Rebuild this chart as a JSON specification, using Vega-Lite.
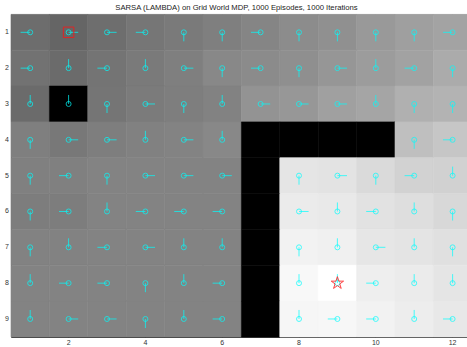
{
  "$schema": "https://vega.github.io/schema/vega-lite/v6.json",
  "width": 456,
  "height": 322.5,
  "autosize": "none",
  "padding": {"left": 11, "top": 14.4, "right": 0, "bottom": 10.1},
  "background": "white",
  "title": {
    "text": "SARSA (LAMBDA) on Grid World MDP, 1000 Episodes, 1000 Iterations",
    "font": "Liberation Sans",
    "fontSize": 7.7,
    "fontWeight": "normal",
    "color": "#222222",
    "anchor": "middle",
    "baseline": "alphabetic",
    "offset": 4.4,
    "dy": 8,
    "dx": -2.5
  },
  "config": {
    "view": {"stroke": null},
    "axis": {
      "grid": false,
      "zindex": 1,
      "labelFont": "Liberation Sans",
      "labelFontSize": 7,
      "labelColor": "#333333",
      "domainColor": "#262626",
      "domainWidth": 1,
      "tickColor": "#333333",
      "tickWidth": 1
    }
  },
  "datasets": {
    "cells": [
      {"col": 1, "row": 1, "value": 109, "action": "left"},
      {"col": 2, "row": 1, "value": 101, "action": "right"},
      {"col": 3, "row": 1, "value": 110, "action": "right"},
      {"col": 4, "row": 1, "value": 118, "action": "left"},
      {"col": 5, "row": 1, "value": 122, "action": "down"},
      {"col": 6, "row": 1, "value": 127, "action": "down"},
      {"col": 7, "row": 1, "value": 133, "action": "left"},
      {"col": 8, "row": 1, "value": 140, "action": "down"},
      {"col": 9, "row": 1, "value": 144, "action": "down"},
      {"col": 10, "row": 1, "value": 153, "action": "down"},
      {"col": 11, "row": 1, "value": 159, "action": "down"},
      {"col": 12, "row": 1, "value": 163, "action": "left"},

      {"col": 1, "row": 2, "value": 114, "action": "left"},
      {"col": 2, "row": 2, "value": 107, "action": "up"},
      {"col": 3, "row": 2, "value": 116, "action": "left"},
      {"col": 4, "row": 2, "value": 122, "action": "up"},
      {"col": 5, "row": 2, "value": 127, "action": "right"},
      {"col": 6, "row": 2, "value": 136, "action": "down"},
      {"col": 7, "row": 2, "value": 139, "action": "left"},
      {"col": 8, "row": 2, "value": 143, "action": "down"},
      {"col": 9, "row": 2, "value": 150, "action": "right"},
      {"col": 10, "row": 2, "value": 156, "action": "up"},
      {"col": 11, "row": 2, "value": 162, "action": "left"},
      {"col": 12, "row": 2, "value": 171, "action": "down"},

      {"col": 1, "row": 3, "value": 107, "action": "up"},
      {"col": 2, "row": 3, "value": 0, "action": "up"},
      {"col": 3, "row": 3, "value": 117, "action": "down"},
      {"col": 4, "row": 3, "value": 123, "action": "right"},
      {"col": 5, "row": 3, "value": 126, "action": "down"},
      {"col": 6, "row": 3, "value": 130, "action": "up"},
      {"col": 7, "row": 3, "value": 147, "action": "right"},
      {"col": 8, "row": 3, "value": 151, "action": "right"},
      {"col": 9, "row": 3, "value": 160, "action": "right"},
      {"col": 10, "row": 3, "value": 165, "action": "up"},
      {"col": 11, "row": 3, "value": 176, "action": "down"},
      {"col": 12, "row": 3, "value": 179, "action": "down"},

      {"col": 1, "row": 4, "value": 127, "action": "down"},
      {"col": 2, "row": 4, "value": 120, "action": "right"},
      {"col": 3, "row": 4, "value": 126, "action": "right"},
      {"col": 4, "row": 4, "value": 129, "action": "up"},
      {"col": 5, "row": 4, "value": 131, "action": "right"},
      {"col": 6, "row": 4, "value": 136, "action": "up"},
      {"col": 7, "row": 4, "value": 0},
      {"col": 8, "row": 4, "value": 0},
      {"col": 9, "row": 4, "value": 0},
      {"col": 10, "row": 4, "value": 0},
      {"col": 11, "row": 4, "value": 191, "action": "down"},
      {"col": 12, "row": 4, "value": 198, "action": "left"},

      {"col": 1, "row": 5, "value": 128, "action": "down"},
      {"col": 2, "row": 5, "value": 128, "action": "left"},
      {"col": 3, "row": 5, "value": 131, "action": "down"},
      {"col": 4, "row": 5, "value": 131, "action": "right"},
      {"col": 5, "row": 5, "value": 131, "action": "right"},
      {"col": 6, "row": 5, "value": 131, "action": "right"},
      {"col": 7, "row": 5, "value": 0},
      {"col": 8, "row": 5, "value": 229, "action": "down"},
      {"col": 9, "row": 5, "value": 227, "action": "right"},
      {"col": 10, "row": 5, "value": 218, "action": "down"},
      {"col": 11, "row": 5, "value": 210, "action": "left"},
      {"col": 12, "row": 5, "value": 209, "action": "up"},

      {"col": 1, "row": 6, "value": 125, "action": "down"},
      {"col": 2, "row": 6, "value": 125, "action": "left"},
      {"col": 3, "row": 6, "value": 131, "action": "up"},
      {"col": 4, "row": 6, "value": 131, "action": "left"},
      {"col": 5, "row": 6, "value": 131, "action": "left"},
      {"col": 6, "row": 6, "value": 131, "action": "left"},
      {"col": 7, "row": 6, "value": 0},
      {"col": 8, "row": 6, "value": 235, "action": "right"},
      {"col": 9, "row": 6, "value": 233, "action": "up"},
      {"col": 10, "row": 6, "value": 226, "action": "left"},
      {"col": 11, "row": 6, "value": 222, "action": "up"},
      {"col": 12, "row": 6, "value": 216, "action": "down"},

      {"col": 1, "row": 7, "value": 130, "action": "down"},
      {"col": 2, "row": 7, "value": 130, "action": "up"},
      {"col": 3, "row": 7, "value": 131, "action": "left"},
      {"col": 4, "row": 7, "value": 131, "action": "right"},
      {"col": 5, "row": 7, "value": 131, "action": "up"},
      {"col": 6, "row": 7, "value": 131, "action": "up"},
      {"col": 7, "row": 7, "value": 0},
      {"col": 8, "row": 7, "value": 242, "action": "down"},
      {"col": 9, "row": 7, "value": 240, "action": "up"},
      {"col": 10, "row": 7, "value": 230, "action": "right"},
      {"col": 11, "row": 7, "value": 228, "action": "up"},
      {"col": 12, "row": 7, "value": 224, "action": "down"},

      {"col": 1, "row": 8, "value": 131, "action": "up"},
      {"col": 2, "row": 8, "value": 131, "action": "left"},
      {"col": 3, "row": 8, "value": 131, "action": "left"},
      {"col": 4, "row": 8, "value": 131, "action": "down"},
      {"col": 5, "row": 8, "value": 131, "action": "up"},
      {"col": 6, "row": 8, "value": 131, "action": "left"},
      {"col": 7, "row": 8, "value": 0},
      {"col": 8, "row": 8, "value": 248, "action": "up"},
      {"col": 9, "row": 8, "value": 255, "action": "up"},
      {"col": 10, "row": 8, "value": 238, "action": "left"},
      {"col": 11, "row": 8, "value": 235, "action": "up"},
      {"col": 12, "row": 8, "value": 229, "action": "up"},

      {"col": 1, "row": 9, "value": 131, "action": "up"},
      {"col": 2, "row": 9, "value": 131, "action": "right"},
      {"col": 3, "row": 9, "value": 131, "action": "right"},
      {"col": 4, "row": 9, "value": 131, "action": "down"},
      {"col": 5, "row": 9, "value": 131, "action": "up"},
      {"col": 6, "row": 9, "value": 131, "action": "left"},
      {"col": 7, "row": 9, "value": 0},
      {"col": 8, "row": 9, "value": 246, "action": "up"},
      {"col": 9, "row": 9, "value": 247, "action": "left"},
      {"col": 10, "row": 9, "value": 242, "action": "left"},
      {"col": 11, "row": 9, "value": 237, "action": "up"},
      {"col": 12, "row": 9, "value": 232, "action": "left"}
    ]
  },
  "resolve": {"axis": {"x": "independent", "y": "independent"}},
  "layer": [
    {
      "data": {"name": "cells"},
      "mark": {"type": "rect", "strokeWidth": 0.6},
      "encoding": {
        "x": {
          "field": "col",
          "type": "ordinal",
          "scale": {"range": [0, 460.8], "paddingInner": 0, "paddingOuter": 0},
          "axis": {
            "orient": "bottom",
            "title": null,
            "values": [2, 4, 6, 8, 10, 12],
            "labelAngle": 0,
            "domain": false,
            "offset": -4.5,
            "tickSize": 4.5,
            "labelPadding": 1.5
          }
        },
        "y": {
          "field": "row",
          "type": "ordinal",
          "scale": {"paddingInner": 0, "paddingOuter": 0},
          "axis": {
            "orient": "left",
            "title": null,
            "domain": false,
            "offset": -4,
            "tickSize": 4,
            "labelPadding": 2.5
          }
        },
        "color": {
          "field": "value",
          "type": "quantitative",
          "scale": {"domain": [0, 255], "range": ["#000000", "#ffffff"], "interpolate": "rgb"},
          "legend": null
        },
        "stroke": {
          "field": "value",
          "type": "quantitative",
          "scale": {"domain": [0, 255], "range": ["#000000", "#ffffff"], "interpolate": "rgb"},
          "legend": null
        }
      }
    },
    {
      "data": {"name": "cells"},
      "transform": [{"filter": "isValid(datum.action)"}],
      "mark": {"type": "point", "shape": "circle", "size": 25, "filled": false, "stroke": "#00ffff", "strokeWidth": 1, "opacity": 0.7},
      "encoding": {
        "x": {
          "field": "col",
          "type": "ordinal",
          "axis": {
            "orient": "top",
            "title": null,
            "values": [2, 4, 6, 8, 10, 12],
            "labels": false,
            "domain": false,
            "offset": -4.5,
            "tickSize": 4.5
          }
        },
        "y": {
          "field": "row",
          "type": "ordinal",
          "axis": {"orient": "left", "title": null, "labels": false, "ticks": false, "domain": true}
        }
      }
    },
    {
      "data": {"name": "cells"},
      "transform": [{"filter": "isValid(datum.action)"}],
      "mark": {"type": "point", "size": 369, "filled": false, "stroke": "#00ffff", "strokeWidth": 1, "opacity": 0.7},
      "encoding": {
        "x": {
          "field": "col",
          "type": "ordinal",
          "axis": {"orient": "bottom", "title": null, "labels": false, "ticks": false, "domain": true}
        },
        "y": {"field": "row", "type": "ordinal", "axis": null},
        "shape": {
          "field": "action",
          "type": "nominal",
          "scale": {
            "domain": ["left", "right", "up", "down"],
            "range": ["M0,0H-1", "M0,0H1", "M0,0V-0.94", "M0,0V0.94"]
          },
          "legend": null
        }
      }
    },
    {
      "data": {"values": [{"col": 2, "row": 1, "state": "start"}]},
      "mark": {
        "type": "point",
        "shape": "M-1,-1H1V1H-1Z",
        "size": 110,
        "filled": false,
        "fill": null,
        "stroke": "#e02424",
        "strokeWidth": 1,
        "opacity": 1
      },
      "encoding": {
        "x": {
          "field": "col",
          "type": "ordinal",
          "axis": {"orient": "top", "title": null, "labels": false, "ticks": false, "domain": true, "domainColor": "#8a8a8a"}
        },
        "y": {"field": "row", "type": "ordinal", "axis": null}
      }
    },
    {
      "data": {"values": [{"col": 9, "row": 8, "state": "goal"}]},
      "mark": {
        "type": "point",
        "shape": "M0,-1L0.225,-0.309L0.951,-0.309L0.363,0.118L0.588,0.809L0,0.382L-0.588,0.809L-0.363,0.118L-0.951,-0.309L-0.225,-0.309Z",
        "size": 169,
        "filled": false,
        "stroke": "#ff2020",
        "strokeWidth": 1,
        "opacity": 0.85
      },
      "encoding": {
        "x": {"field": "col", "type": "ordinal", "axis": null},
        "y": {"field": "row", "type": "ordinal", "axis": null}
      }
    }
  ]
}
